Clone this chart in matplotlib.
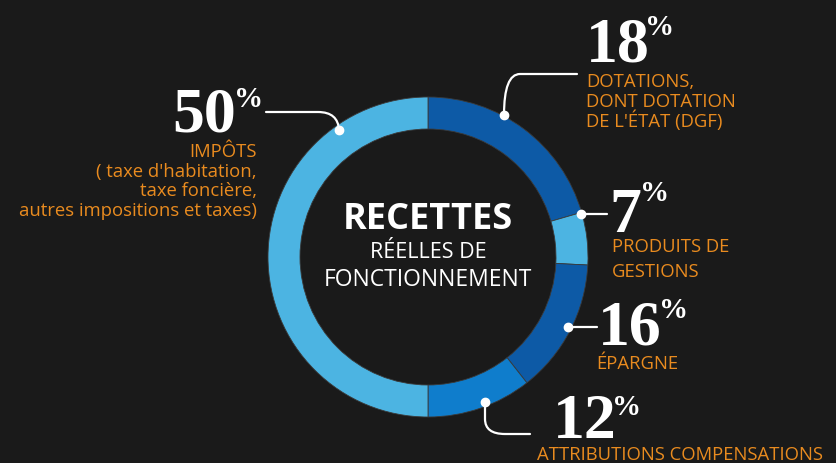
import matplotlib.pyplot as plt
from matplotlib.path import Path
from matplotlib.patches import PathPatch

# share of each arc as read from the ring, clockwise from 12 o'clock
segments = ["Dotations", "Produits de gestions", "Epargne", "Attributions compensations", "Impots"]
arc_share = [20.5, 5.3, 13.6, 10.6, 50.0]
seg_colors = ["#0d5aa6", "#4cb4e2", "#0d5aa6", "#0f7dcc", "#4cb4e2"]

# printed percentages and captions
pct_labels = ["18", "7", "16", "12", "50"]
captions = [
    "DOTATIONS,\nDONT DOTATION\nDE L'ÉTAT (DGF)",
    "PRODUITS DE\nGESTIONS",
    "ÉPARGNE",
    "ATTRIBUTIONS COMPENSATIONS",
    "IMPÔTS\n( taxe d'habitation,\ntaxe foncière,\nautres impositions et taxes)",
]

BG = "#1a1a1a"
ORANGE = "#e98b1f"
W, H = 836, 464
CX, CY, R = 428, 258, 160

fig = plt.figure(figsize=(W / 100, H / 100), dpi=100, facecolor=BG)
ax = fig.add_axes([0, 0, 1, 1])
ax.set_facecolor(BG)

# y axis is flipped, so start at -90 and go "counterclock" to look clockwise from the top
ax.set_xlim(0, W)
ax.set_ylim(H, 0)
ax.pie(arc_share, colors=seg_colors, center=(CX, CY), radius=R, startangle=-90,
       counterclock=True, frame=True,
       wedgeprops=dict(width=32, edgecolor="#3a3a3a", linewidth=0.6))
ax.set_xlim(0, W)
ax.set_ylim(H, 0)
ax.set_aspect("equal")
ax.axis("off")

# centre title
ax.text(CX, 220, "RECETTES", color="white", fontsize=26, fontweight="bold",
        family="Open Sans", ha="center", va="center")
ax.text(CX, 253, "RÉELLES DE", color="white", fontsize=15.5, family="Open Sans",
        ha="center", va="center")
ax.text(CX, 280, "FONCTIONNEMENT", color="white", fontsize=16.5, family="Open Sans",
        ha="center", va="center")


def connector(pts, codes, dot):
    ax.add_patch(PathPatch(Path(pts, codes), fill=False, edgecolor="white", lw=1.6,
                           capstyle="round"))
    ax.plot(*dot, "o", color="white", ms=6, zorder=5)


M, L, C3 = Path.MOVETO, Path.LINETO, Path.CURVE3
connector([(577, 75), (520, 75), (504, 75), (504, 116)], [M, L, C3, C3], (504, 116))
connector([(581, 215), (607, 215)], [M, L], (581, 215))
connector([(568, 328), (597, 328)], [M, L], (568, 328))
connector([(485, 403), (485, 420), (485, 435), (505, 435), (530, 435)], [M, L, C3, C3, L], (485, 403))
connector([(266, 113), (318, 113), (338, 113), (339, 131)], [M, L, C3, C3], (339, 131))


def big_number(x, y, num):
    ax.text(x, y, num, color="white", fontsize=46, fontweight="bold",
            family="Liberation Serif", ha="left", va="baseline")


def percent(x, y):
    ax.text(x, y, "%", color="white", fontsize=21, fontweight="bold",
            family="Liberation Serif", ha="left", va="top")


def caption(x, y0, text, ha="left", step=19.6):
    for i, line in enumerate(text.split("\n")):
        ax.text(x, y0 + i * step, line, color=ORANGE, fontsize=13.3,
                family="Open Sans", ha=ha, va="center")


# 18 %
big_number(586, 62, pct_labels[0])
percent(645, 14)
caption(586, 82, captions[0])

# 7 %
big_number(609, 232, pct_labels[1])
percent(640, 180)
caption(612, 247, captions[1], step=25)

# 16 %
big_number(598, 345, pct_labels[2])
percent(659, 297)
caption(596, 364, captions[2])

# 12 %
big_number(553, 438, pct_labels[3])
percent(612, 394)
caption(537, 455, captions[3])

# 50 %
big_number(172, 132, pct_labels[4])
percent(234, 86)
caption(257, 152, captions[4], ha="right")

fig.savefig("out.png", dpi=100, facecolor=BG)
